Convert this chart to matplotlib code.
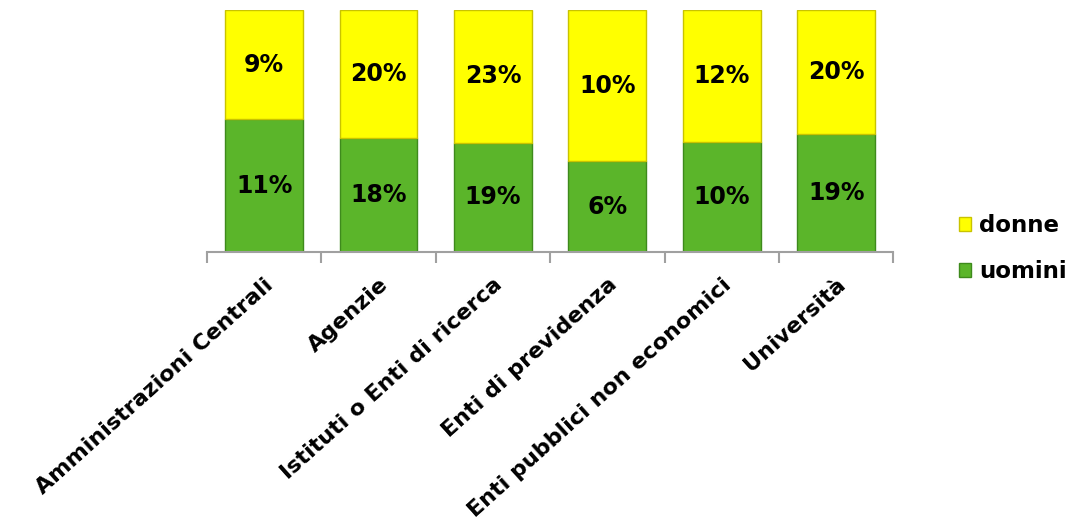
import numpy as np
import matplotlib.pyplot as plt

# dati
categorie = ['Amministrazioni Centrali', 'Agenzie', 'Istituti o Enti di ricerca',
             'Enti di previdenza', 'Enti pubblici non economici', 'Università']
uomini = [11, 18, 19, 6, 10, 19]
donne = [9, 20, 23, 10, 12, 20]

u = np.array(uomini, dtype=float)
d = np.array(donne, dtype=float)
tot = u + d
u_frac = u / tot
d_frac = d / tot

fig = plt.figure(figsize=(10.83, 5.32), dpi=100)
ax = fig.add_axes([0.191, 0.526, 0.634, 0.455])

x = np.arange(len(categorie))
verde = '#5BB52A'
giallo = '#FFFF00'

b1 = ax.bar(x, u_frac, width=0.68, color=verde, edgecolor='#3E8A1C', linewidth=1.0, label='uomini')
b2 = ax.bar(x, d_frac, width=0.68, bottom=u_frac, color=giallo, edgecolor='#C9C300',
            linewidth=1.0, label='donne')

for i in range(len(x)):
    ax.text(x[i], u_frac[i] / 2, f'{uomini[i]}%', ha='center', va='center',
            fontsize=17, fontweight='bold', color='black')
    ax.text(x[i], u_frac[i] + d_frac[i] / 2, f'{donne[i]}%', ha='center', va='center',
            fontsize=17, fontweight='bold', color='black')

ax.set_xlim(-0.5, len(x) - 0.5)
ax.set_ylim(0, 1)
ax.set_yticks([])
for s in ['top', 'right', 'left']:
    ax.spines[s].set_visible(False)
ax.spines['bottom'].set_color('#A0A0A0')
ax.spines['bottom'].set_linewidth(1.5)

# tacche ai confini delle categorie
ax.set_xticks(np.arange(-0.5, len(x), 1.0), minor=True)
ax.tick_params(axis='x', which='minor', length=8, width=1.5, color='#A0A0A0')
ax.set_xticks(x)
ax.tick_params(axis='x', which='major', length=0, pad=16)
ax.set_xticklabels(categorie, rotation=42, ha='right', va='top', rotation_mode='anchor',
                   fontsize=16, fontweight='bold')

leg = ax.legend(handles=[b2, b1], labels=['donne', 'uomini'], loc='center left',
                bbox_to_anchor=(1.065, 0.015), frameon=False, handlelength=0.55, handleheight=0.55,
                prop={'size': 16.5, 'weight': 'bold'}, labelspacing=1.0, handletextpad=0.35)

fig.savefig('out.png', dpi=100)
